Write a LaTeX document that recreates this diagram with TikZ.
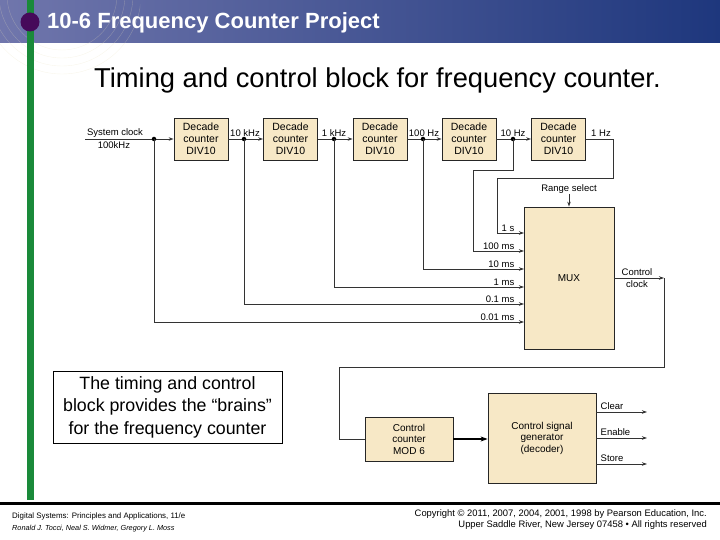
\documentclass[tikz,border=0pt]{standalone}
\usepackage{fontspec}
\setmainfont{Liberation Sans}
\usetikzlibrary{arrows.meta}
\definecolor{boxfill}{RGB}{247,232,198}
\definecolor{barL}{RGB}{112,118,172}
\definecolor{barR}{RGB}{30,55,125}
\definecolor{gline}{RGB}{26,138,58}
\definecolor{purp}{RGB}{70,10,90}
\definecolor{faint}{RGB}{232,222,190}
\begin{document}
\begin{tikzpicture}[x=1pt,y=-1pt,
  blk/.style={draw=black!85, fill=boxfill, line width=0.8pt, align=center, inner sep=0pt,
    font=\fontsize{10}{11.5}\selectfont},
  wire/.style={line width=0.8pt, draw=black!80},
  arr/.style={wire, -{Stealth[length=5pt,width=3.5pt]}},
  lbl/.style={font=\fontsize{9.5}{11}\selectfont, inner sep=0.5pt},
  dot/.style={circle, fill=black, inner sep=0pt, minimum size=4.5pt}]
\useasboundingbox (0,0) rectangle (720,540);
% title bar
\shade[left color=barL, right color=barR] (0,0) rectangle (720,43);
\begin{scope}
\clip (0,0) rectangle (140,90);
\foreach \r in {55,63,71,79} \draw[faint, line width=0.4pt, opacity=0.3] (62,-5) circle[radius=\r];
\end{scope}
\fill[gline] (26.5,0) rectangle (33.5,500);
\fill[purp] (30,22) circle[radius=9.5];
\node[anchor=west, text=white, font=\fontsize{22}{24}\selectfont\bfseries, inner sep=0] (title) at (47,23) {10-6 Frequency Counter Project};
\node[font=\fontsize{27.3}{30}\selectfont, inner sep=0] (sub) at (377.5,80) {Timing and control block for frequency counter.};
% decade counters
\foreach \i/\x in {1/201,2/290.5,3/380,4/469,5/558.5}
  \node[blk, minimum width=54pt, minimum height=42pt, font=\fontsize{10.5}{12}\selectfont] (d\i) at (\x,139) {Decade\\counter\\DIV10};
\coordinate (sc) at (85,139);
\coordinate (p0) at (154,139);
\coordinate (p1) at (244,139);
\coordinate (p2) at (334,139);
\coordinate (p3) at (423,139);
\coordinate (p4) at (513,139);
\node[lbl, anchor=south] (sclbl) at (115,138) {System clock};
\node[lbl, anchor=north] (sclbl2) at (114,141) {100kHz};
\node[lbl, anchor=south] (l1) at (245,137) {10 kHz};
\node[lbl, anchor=south] (l2) at (334,137) {1 kHz};
\node[lbl, anchor=south] (l3) at (424,137) {100 Hz};
\node[lbl, anchor=south] (l4) at (513,137) {10 Hz};
\node[lbl, anchor=south] (l5) at (601,137) {1 Hz};
\draw[wire] (sc) -- (p0);
\draw[arr] (p0) -- (d1.west);
\draw[wire] (d1.east) -- (p1); \draw[arr] (p1) -- (d2.west);
\draw[wire] (d2.east) -- (p2); \draw[arr] (p2) -- (d3.west);
\draw[wire] (d3.east) -- (p3); \draw[arr] (p3) -- (d4.west);
\draw[wire] (d4.east) -- (p4); \draw[arr] (p4) -- (d5.west);
\foreach \p in {p0,p1,p2,p3,p4} \node[dot] at (\p) {};
% MUX
\node[blk, minimum width=90pt, minimum height=142pt] (mux) at (569,278) {MUX};
\node[lbl, anchor=south] (rs) at (569,194) {Range select};
\draw[arr] (rs.south) -- (mux.north);
\foreach \n/\y/\t in {a/233/1 s,b/251/100 ms,c/269/10 ms,d/287/1 ms,e/304/0.1 ms,f/322/0.01 ms}{
  \coordinate (in\n) at (524,\y);
  \node[lbl, anchor=south east] (t\n) at (515,\y-0.5) {\t};
}
\draw[arr] (d5.east) -- (613,139) -- (613,178) -- (497,178) -- (497,233) -- (ina);
\draw[arr] (p4) -- (513,170) -- (473,170) -- (473,251) -- (inb);
\draw[arr] (p3) -- (423,269) -- (inc);
\draw[arr] (p2) -- (334,287) -- (ind);
\draw[arr] (p1) -- (244,304) -- (ine);
\draw[arr] (p0) -- (154,322) -- (inf);
% control clock
\coordinate (cc) at (664,278);
\draw[arr] (mux.east |- cc) -- (cc);
\node[lbl, anchor=south] (ccl1) at (637,276) {Control};
\node[lbl, anchor=north] (ccl2) at (637,280) {clock};
% bottom blocks
\node[blk, minimum width=88pt, minimum height=44pt] (cnt) at (409,439) {Control\\counter\\MOD 6};
\node[blk, minimum width=108pt, minimum height=90pt] (gen) at (542,438) {Control signal\\generator\\(decoder)};
\draw[wire] (cc) -- (664,367) -- (339,367) -- (339,439) -- (cnt.west);
\draw[line width=1.6pt, -{Stealth[length=7pt,width=5pt]}] (cnt.east) -- (gen.west |- cnt.east);
\foreach \n/\y/\t in {c/412/Clear,e/438/Enable,s/464/Store}{
  \coordinate (o\n) at (647,\y);
  \draw[arr] (gen.east |- o\n) -- (o\n);
  \node[lbl, anchor=south west] (ol\n) at (600,\y-2) {\t};
}
% note box
\node[draw=black, line width=0.8pt, minimum width=229pt, minimum height=72pt, align=center,
  font=\fontsize{17.8}{22.5}\selectfont, inner sep=0pt] (note) at (167.5,407)
  {The timing and control\\block provides the “brains”\\for the frequency counter};
% footer
\fill[black] (0,501.5) rectangle (720,505);
\node[anchor=west, font=\fontsize{7.9}{9}\selectfont, inner sep=0] (f1) at (12,516) {Digital Systems: Principles and Applications, 11/e};
\node[anchor=west, font=\fontsize{7.3}{9}\selectfont\itshape, inner sep=0] (f2) at (12,529) {Ronald J. Tocci, Neal S. Widmer, Gregory L. Moss};
\node[anchor=east, font=\fontsize{9.4}{10}\selectfont, inner sep=0] (f3) at (707,514) {Copyright © 2011, 2007, 2004, 2001, 1998 by Pearson Education, Inc.};
\node[anchor=east, font=\fontsize{9.4}{10}\selectfont, inner sep=0] (f4) at (707,525) {Upper Saddle River, New Jersey 07458 • All rights reserved};
\end{tikzpicture}
\end{document}
